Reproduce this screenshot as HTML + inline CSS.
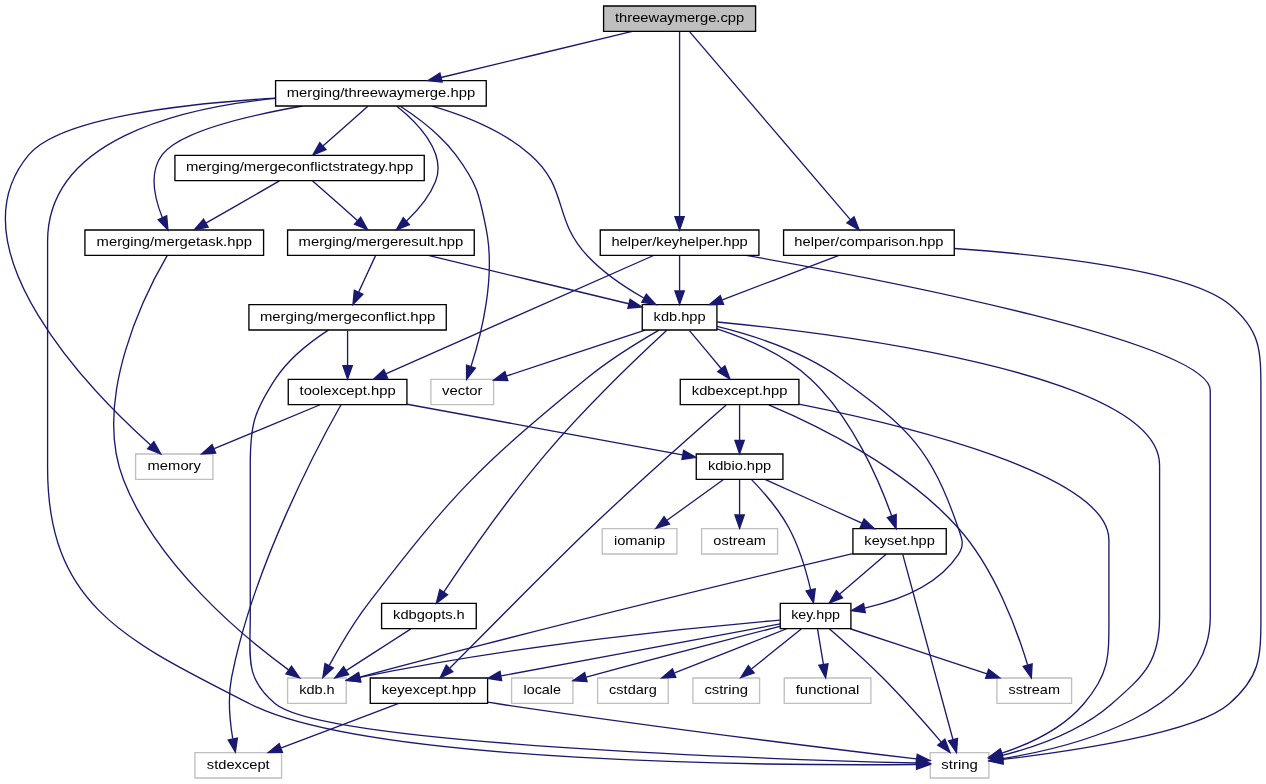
<!DOCTYPE html>
<html><head><meta charset="utf-8"><style>
html,body{margin:0;padding:0;background:#fff;overflow:hidden}
svg{display:block}
text{font-family:"Liberation Sans",sans-serif;font-size:10.0px;text-anchor:middle;fill:#000}
</style></head><body>
<svg width="1266" height="784" viewBox="0 0 949.5 588">
<rect width="949.5" height="588" fill="#fff"/>
<g transform="translate(4 584)" style="will-change:transform">
<g fill="none" stroke="#191970">
<path d="M513.32,-560.08C536.16,-533.38 604.18,-453.87 633.73,-419.32"/>
<path d="M505.69,-560.08C505.69,-533.95 505.69,-457.21 505.69,-421.58"/>
<path d="M470.19,-560.44C431.36,-551.08 369.03,-536.06 326.77,-525.87"/>
<path d="M711.81,-397.64C781.53,-392.74 887.11,-381.29 917.69,-356 941.42,-336.37 941.69,-321.8 941.69,-291 941.69,-291 941.69,-291 941.69,-121 941.69,-90.2 940.88,-76.26 917.69,-56 892.68,-34.15 798.47,-20.39 748.03,-14.43"/>
<path d="M625.19,-392.44C601.61,-383.48 564.37,-369.31 537.72,-359.18"/>
<path d="M533.94,-342.51C618.8,-334.25 865.69,-304.27 865.69,-235 865.69,-235 865.69,-235 865.69,-121 865.69,-87.98 854.5,-77.79 829.69,-56 806.32,-35.49 772.49,-23.73 747.75,-17.42"/>
<path d="M479.86,-336.44C451.79,-327.15 406.85,-312.26 376.11,-302.07"/>
<path d="M513.12,-336.08C519.54,-328.38 528.99,-317.03 536.81,-307.65"/>
<path d="M533.76,-337.37C554.99,-330.45 583.78,-318.46 603.69,-300 635.27,-270.71 655.49,-223.06 664.76,-197.16"/>
<path d="M490.25,-336.46C475.59,-328.04 453.24,-314.37 435.69,-300 355.18,-234.11 336.09,-214.48 272.69,-132 261.18,-117.03 250.33,-98.43 243,-84.97"/>
<path d="M533.72,-339.2C559.69,-332.81 598.45,-320.61 626.69,-300 677.82,-262.68 694,-247.83 714.69,-188 717.59,-179.6 719.61,-175.4 714.69,-168 699.17,-144.65 668.92,-133.39 644.53,-127.97"/>
<path d="M496.1,-336.25C477.71,-319.26 436.54,-280.28 405.69,-244 375.68,-208.71 344.78,-163.87 328.79,-139.91"/>
<path d="M595.19,-280.88C673.49,-265.33 827.69,-228.41 827.69,-179 827.69,-179 827.69,-179 827.69,-121 827.69,-90.9 828.13,-78.98 808.69,-56 792.93,-37.38 767.66,-25.84 747.44,-19.12"/>
<path d="M572.58,-280.41C606.9,-265.98 673.68,-233.87 714.69,-188 742.19,-157.24 758.98,-110.88 766.67,-85.4"/>
<path d="M550.69,-280.08C550.69,-273.01 550.69,-262.86 550.69,-253.99"/>
<path d="M540.64,-280.25C520.85,-262.95 475.52,-222.98 438.69,-188 418.2,-168.54 361.35,-111.19 333.49,-83.01"/>
<path d="M569.7,-224.44C589.28,-215.64 620,-201.81 642.42,-191.72"/>
<path d="M559.48,-224.45C567.8,-215.92 580.12,-202.08 587.69,-188 595.55,-173.38 600.81,-155.21 603.95,-141.8"/>
<path d="M538.64,-224.32C527.22,-216.11 509.86,-203.6 496.25,-193.81"/>
<path d="M550.69,-224.08C550.69,-217.01 550.69,-206.86 550.69,-197.99"/>
<path d="M673.11,-168.08C680.19,-141.95 700.99,-65.21 710.65,-29.58"/>
<path d="M635.54,-168.74C566.59,-152.44 408.58,-114.55 265.82,-76.23"/>
<path d="M660.57,-168.32C651.16,-160.26 636.94,-148.08 625.62,-138.37"/>
<path d="M617.95,-112.35C628.27,-103.51 644.5,-89.24 657.69,-76 673.44,-60.18 690.32,-40.98 701.78,-27.57"/>
<path d="M633.67,-112.44C661.38,-103.32 705.44,-88.81 736.3,-78.65"/>
<path d="M580.77,-118.87C524.15,-114.1 388.48,-101.09 265.87,-75.97"/>
<path d="M581.18,-116.06C533.9,-107.26 434.13,-88.68 371.83,-77.08"/>
<path d="M580.97,-114.22C548.81,-106.03 492.91,-91.67 435.69,-76.23"/>
<path d="M585.98,-112.44C563.33,-103.52 527.62,-89.44 501.94,-79.32"/>
<path d="M596.92,-112.32C586.92,-104.26 571.8,-92.08 559.76,-82.37"/>
<path d="M609.17,-112.08C610.37,-104.93 612.08,-94.64 613.57,-85.69"/>
<path d="M361.91,-57.36C364.88,-56.89 367.83,-56.43 370.69,-56 485.36,-38.79 622.06,-22.09 683.26,-14.81"/>
<path d="M295.03,-56.44C271.29,-47.48 233.78,-33.31 206.95,-23.18"/>
<path d="M304.19,-112.32C291.09,-103.9 270.98,-90.97 255.58,-81.07"/>
<path d="M555.69,-392.44C662.59,-373.47 903.69,-326.71 903.69,-291 903.69,-291 903.69,-291 903.69,-121 903.69,-49.74 801.83,-23.79 748.06,-15.05"/>
<path d="M505.69,-392.08C505.69,-385.01 505.69,-374.86 505.69,-365.99"/>
<path d="M486.15,-392.37C442.42,-373.05 336.5,-326.26 285.32,-303.65"/>
<path d="M301.34,-280.8C357.33,-270.52 452.64,-253.01 507.79,-242.88"/>
<path d="M251.76,-280.45C235.89,-252.37 186.16,-159.88 169.69,-76 166.69,-60.71 168.36,-43.07 170.55,-30.02"/>
<path d="M236.09,-280.44C214.69,-271.56 181.01,-257.56 156.66,-247.45"/>
<path d="M202.59,-510.2C129.34,-502.87 31.69,-478.87 31.69,-403 31.69,-403 31.69,-403 31.69,-233 31.69,-129.31 91.37,-103.22 183.69,-56 271.57,-11.05 581.47,-9.75 683.12,-10.58"/>
<path d="M320.15,-504.45C343.53,-497.7 372.79,-486.29 393.69,-468 422.89,-442.44 410.12,-420.29 436.69,-392 448.7,-379.21 465.04,-368.34 478.81,-360.49"/>
<path d="M296.29,-504.27C308.72,-496.2 326.34,-483.19 337.69,-468 353.79,-446.45 355.48,-438.4 360.69,-412 367.82,-375.85 357.02,-333.11 349.31,-309.33"/>
<path d="M202.68,-510.43C133.7,-506.33 41.04,-495.67 17.69,-468 -41.57,-397.78 64.82,-289.94 108.88,-250.3"/>
<path d="M271.89,-504.32C262.87,-496.34 249.28,-484.31 238.37,-474.65"/>
<path d="M293.68,-504.34C308.61,-492.41 331.17,-469.9 322.69,-448 318.23,-436.5 309.32,-426.13 300.94,-418.25"/>
<path d="M222.82,-504.48C181.21,-497.11 130.62,-484.96 117.69,-468 107.46,-454.59 112.07,-434.95 117.78,-420.77"/>
<path d="M230.49,-448.32C239.51,-440.34 253.09,-428.31 264.01,-418.65"/>
<path d="M205.59,-448.32C190.78,-439.82 167.99,-426.73 150.71,-416.8"/>
<path d="M317.18,-392.44C358.21,-382.55 425.47,-366.34 467.58,-356.19"/>
<path d="M277.56,-392.08C274.17,-384.77 269.27,-374.18 265.07,-365.1"/>
<path d="M242.23,-336.44C229.99,-328.47 212.86,-315.51 202.69,-300 186.19,-274.83 183.69,-265.1 183.69,-235 183.69,-235 183.69,-235 183.69,-121 183.69,-90.9 179.42,-75.09 202.69,-56 239.86,-25.51 576.78,-14.49 683.45,-11.74"/>
<path d="M256.69,-336.08C256.69,-329.01 256.69,-318.86 256.69,-309.99"/>
<path d="M121.34,-392.24C106.01,-365.95 64.53,-285.76 88.69,-224 113.75,-159.93 178.58,-106.3 212.42,-81.61"/>
</g>
<polygon fill="#bfbfbf" stroke="#000" points="448.69,-560.5 448.69,-579.5 562.69,-579.5 562.69,-560.5 448.69,-560.5"/>
<text x="505.69" y="-567.5" textLength="96.87" lengthAdjust="spacingAndGlyphs">threewaymerge.cpp</text>
<polygon fill="#fff" stroke="#000" points="583.69,-392.5 583.69,-411.5 711.69,-411.5 711.69,-392.5 583.69,-392.5"/>
<text x="647.69" y="-399.5" textLength="111.87" lengthAdjust="spacingAndGlyphs">helper/comparison.hpp</text>
<polygon fill="#191970" stroke="#191970" points="636.52,-421.44 640.36,-411.57 631.2,-416.89 636.52,-421.44"/>
<polygon fill="#fff" stroke="#000" points="446.19,-392.5 446.19,-411.5 565.19,-411.5 565.19,-392.5 446.19,-392.5"/>
<text x="505.69" y="-399.5" textLength="102.25" lengthAdjust="spacingAndGlyphs">helper/keyhelper.hpp</text>
<polygon fill="#191970" stroke="#191970" points="509.19,-421.57 505.69,-411.57 502.19,-421.57 509.19,-421.57"/>
<polygon fill="#fff" stroke="#000" points="202.69,-504.5 202.69,-523.5 360.69,-523.5 360.69,-504.5 202.69,-504.5"/>
<text x="281.69" y="-511.5" textLength="141.34" lengthAdjust="spacingAndGlyphs">merging/threewaymerge.hpp</text>
<polygon fill="#191970" stroke="#191970" points="327.56,-522.46 317.02,-523.52 325.92,-529.26 327.56,-522.46"/>
<polygon fill="#fff" stroke="#bfbfbf" points="693.69,-0.5 693.69,-19.5 737.69,-19.5 737.69,-0.5 693.69,-0.5"/>
<text x="715.69" y="-7.5" textLength="27.35" lengthAdjust="spacingAndGlyphs">string</text>
<polygon fill="#191970" stroke="#191970" points="748.3,-10.94 737.97,-13.28 747.51,-17.9 748.3,-10.94"/>
<polygon fill="#fff" stroke="#000" points="477.69,-336.5 477.69,-355.5 533.69,-355.5 533.69,-336.5 477.69,-336.5"/>
<text x="505.69" y="-343.5" textLength="38.98" lengthAdjust="spacingAndGlyphs">kdb.hpp</text>
<polygon fill="#191970" stroke="#191970" points="538.67,-355.8 528.08,-355.52 536.19,-362.34 538.67,-355.8"/>
<polygon fill="#191970" stroke="#191970" points="748.3,-13.95 737.76,-15.03 746.68,-20.76 748.3,-13.95"/>
<polygon fill="#fff" stroke="#bfbfbf" points="319.19,-280.5 319.19,-299.5 366.19,-299.5 366.19,-280.5 319.19,-280.5"/>
<text x="342.69" y="-287.5" textLength="30.27" lengthAdjust="spacingAndGlyphs">vector</text>
<polygon fill="#191970" stroke="#191970" points="376.87,-298.64 366.28,-298.82 374.67,-305.28 376.87,-298.64"/>
<polygon fill="#fff" stroke="#000" points="506.19,-280.5 506.19,-299.5 595.19,-299.5 595.19,-280.5 506.19,-280.5"/>
<text x="550.69" y="-287.5" textLength="71.61" lengthAdjust="spacingAndGlyphs">kdbexcept.hpp</text>
<polygon fill="#191970" stroke="#191970" points="539.68,-309.67 543.4,-299.75 534.3,-305.19 539.68,-309.67"/>
<polygon fill="#fff" stroke="#000" points="635.69,-168.5 635.69,-187.5 705.69,-187.5 705.69,-168.5 635.69,-168.5"/>
<text x="670.69" y="-175.5" textLength="52.85" lengthAdjust="spacingAndGlyphs">keyset.hpp</text>
<polygon fill="#191970" stroke="#191970" points="668.14,-198.1 668.07,-187.51 661.52,-195.83 668.14,-198.1"/>
<polygon fill="#fff" stroke="#bfbfbf" points="211.69,-56.5 211.69,-75.5 255.69,-75.5 255.69,-56.5 211.69,-56.5"/>
<text x="233.69" y="-63.5" textLength="26.66" lengthAdjust="spacingAndGlyphs">kdb.h</text>
<polygon fill="#191970" stroke="#191970" points="245.93,-83.01 238.14,-75.82 239.74,-86.29 245.93,-83.01"/>
<polygon fill="#fff" stroke="#000" points="581.19,-112.5 581.19,-131.5 634.19,-131.5 634.19,-112.5 581.19,-112.5"/>
<text x="607.69" y="-119.5" textLength="36.64" lengthAdjust="spacingAndGlyphs">key.hpp</text>
<polygon fill="#191970" stroke="#191970" points="644.98,-124.49 634.5,-125.99 643.63,-131.36 644.98,-124.49"/>
<polygon fill="#fff" stroke="#000" points="282.19,-112.5 282.19,-131.5 353.19,-131.5 353.19,-112.5 282.19,-112.5"/>
<text x="317.69" y="-119.5" textLength="53.77" lengthAdjust="spacingAndGlyphs">kdbgopts.h</text>
<polygon fill="#191970" stroke="#191970" points="331.69,-137.95 323.25,-131.54 325.85,-141.81 331.69,-137.95"/>
<polygon fill="#191970" stroke="#191970" points="748.28,-15.71 737.69,-16.11 746.22,-22.4 748.28,-15.71"/>
<polygon fill="#fff" stroke="#bfbfbf" points="743.69,-56.5 743.69,-75.5 799.69,-75.5 799.69,-56.5 743.69,-56.5"/>
<text x="771.69" y="-63.5" textLength="38.55" lengthAdjust="spacingAndGlyphs">sstream</text>
<polygon fill="#191970" stroke="#191970" points="770.1,-86.16 769.5,-75.58 763.37,-84.22 770.1,-86.16"/>
<polygon fill="#fff" stroke="#000" points="518.19,-224.5 518.19,-243.5 583.19,-243.5 583.19,-224.5 518.19,-224.5"/>
<text x="550.69" y="-231.5" textLength="47.44" lengthAdjust="spacingAndGlyphs">kdbio.hpp</text>
<polygon fill="#191970" stroke="#191970" points="554.19,-253.75 550.69,-243.75 547.19,-253.75 554.19,-253.75"/>
<polygon fill="#fff" stroke="#000" points="273.69,-56.5 273.69,-75.5 361.69,-75.5 361.69,-56.5 273.69,-56.5"/>
<text x="317.69" y="-63.5" textLength="70.65" lengthAdjust="spacingAndGlyphs">keyexcept.hpp</text>
<polygon fill="#191970" stroke="#191970" points="335.67,-80.23 326.15,-75.58 330.69,-85.15 335.67,-80.23"/>
<polygon fill="#191970" stroke="#191970" points="644.08,-194.81 651.76,-187.52 641.21,-188.43 644.08,-194.81"/>
<polygon fill="#191970" stroke="#191970" points="607.41,-142.35 606.11,-131.84 600.57,-140.87 607.41,-142.35"/>
<polygon fill="#fff" stroke="#bfbfbf" points="447.69,-168.5 447.69,-187.5 503.69,-187.5 503.69,-168.5 447.69,-168.5"/>
<text x="475.69" y="-175.5" textLength="38.52" lengthAdjust="spacingAndGlyphs">iomanip</text>
<polygon fill="#191970" stroke="#191970" points="498.12,-190.84 487.96,-187.83 494.03,-196.52 498.12,-190.84"/>
<polygon fill="#fff" stroke="#bfbfbf" points="522.19,-168.5 522.19,-187.5 579.19,-187.5 579.19,-168.5 522.19,-168.5"/>
<text x="550.69" y="-175.5" textLength="39.43" lengthAdjust="spacingAndGlyphs">ostream</text>
<polygon fill="#191970" stroke="#191970" points="554.19,-197.75 550.69,-187.75 547.19,-197.75 554.19,-197.75"/>
<polygon fill="#191970" stroke="#191970" points="714.13,-30.14 713.37,-19.57 707.37,-28.3 714.13,-30.14"/>
<polygon fill="#191970" stroke="#191970" points="266.58,-72.81 256.01,-73.59 264.76,-79.57 266.58,-72.81"/>
<polygon fill="#191970" stroke="#191970" points="627.86,-135.68 617.99,-131.83 623.31,-141 627.86,-135.68"/>
<polygon fill="#191970" stroke="#191970" points="704.67,-29.58 708.47,-19.68 699.33,-25.05 704.67,-29.58"/>
<polygon fill="#191970" stroke="#191970" points="737.42,-81.97 745.82,-75.52 735.23,-75.32 737.42,-81.97"/>
<polygon fill="#191970" stroke="#191970" points="266.44,-72.51 255.94,-73.9 265.01,-79.36 266.44,-72.51"/>
<polygon fill="#191970" stroke="#191970" points="372.26,-73.6 361.79,-75.21 370.98,-80.48 372.26,-73.6"/>
<polygon fill="#fff" stroke="#bfbfbf" points="379.69,-56.5 379.69,-75.5 425.69,-75.5 425.69,-56.5 379.69,-56.5"/>
<text x="402.69" y="-63.5" textLength="28.07" lengthAdjust="spacingAndGlyphs">locale</text>
<polygon fill="#191970" stroke="#191970" points="436.31,-72.78 425.74,-73.54 434.48,-79.53 436.31,-72.78"/>
<polygon fill="#fff" stroke="#bfbfbf" points="444.19,-56.5 444.19,-75.5 497.19,-75.5 497.19,-56.5 444.19,-56.5"/>
<text x="470.69" y="-63.5" textLength="35.77" lengthAdjust="spacingAndGlyphs">cstdarg</text>
<polygon fill="#191970" stroke="#191970" points="502.88,-75.93 492.29,-75.52 500.31,-82.44 502.88,-75.93"/>
<polygon fill="#fff" stroke="#bfbfbf" points="515.69,-56.5 515.69,-75.5 565.69,-75.5 565.69,-56.5 515.69,-56.5"/>
<text x="540.69" y="-63.5" textLength="32.68" lengthAdjust="spacingAndGlyphs">cstring</text>
<polygon fill="#191970" stroke="#191970" points="561.63,-79.38 551.65,-75.83 557.24,-84.83 561.63,-79.38"/>
<polygon fill="#fff" stroke="#bfbfbf" points="584.19,-56.5 584.19,-75.5 649.19,-75.5 649.19,-56.5 584.19,-56.5"/>
<text x="616.69" y="-63.5" textLength="47.76" lengthAdjust="spacingAndGlyphs">functional</text>
<polygon fill="#191970" stroke="#191970" points="617.04,-86.19 615.23,-75.75 610.13,-85.04 617.04,-86.19"/>
<polygon fill="#191970" stroke="#191970" points="683.93,-18.25 693.45,-13.6 683.1,-11.3 683.93,-18.25"/>
<polygon fill="#fff" stroke="#bfbfbf" points="142.19,-0.5 142.19,-19.5 207.19,-19.5 207.19,-0.5 142.19,-0.5"/>
<text x="174.69" y="-7.5" textLength="47.14" lengthAdjust="spacingAndGlyphs">stdexcept</text>
<polygon fill="#191970" stroke="#191970" points="207.83,-19.77 197.24,-19.52 205.36,-26.32 207.83,-19.77"/>
<polygon fill="#191970" stroke="#191970" points="257.45,-78.12 247.15,-75.65 253.67,-84.01 257.45,-78.12"/>
<polygon fill="#191970" stroke="#191970" points="748.4,-11.56 737.99,-13.53 747.35,-18.48 748.4,-11.56"/>
<polygon fill="#191970" stroke="#191970" points="509.19,-365.75 505.69,-355.75 502.19,-365.75 509.19,-365.75"/>
<polygon fill="#fff" stroke="#000" points="212.19,-280.5 212.19,-299.5 301.19,-299.5 301.19,-280.5 212.19,-280.5"/>
<text x="256.69" y="-287.5" textLength="72.04" lengthAdjust="spacingAndGlyphs">toolexcept.hpp</text>
<polygon fill="#191970" stroke="#191970" points="286.7,-300.43 276.14,-299.59 283.87,-306.83 286.7,-300.43"/>
<polygon fill="#191970" stroke="#191970" points="508.73,-246.27 517.93,-241.02 507.46,-239.38 508.73,-246.27"/>
<polygon fill="#191970" stroke="#191970" points="174.04,-30.4 172.5,-19.92 167.16,-29.08 174.04,-30.4"/>
<polygon fill="#fff" stroke="#bfbfbf" points="97.69,-224.5 97.69,-243.5 155.69,-243.5 155.69,-224.5 97.69,-224.5"/>
<text x="126.69" y="-231.5" textLength="40.03" lengthAdjust="spacingAndGlyphs">memory</text>
<polygon fill="#191970" stroke="#191970" points="157.77,-244.12 147.19,-243.52 155.08,-250.58 157.77,-244.12"/>
<polygon fill="#191970" stroke="#191970" points="683.35,-14.08 693.39,-10.67 683.42,-7.08 683.35,-14.08"/>
<polygon fill="#191970" stroke="#191970" points="480.75,-363.42 487.85,-355.56 477.39,-357.28 480.75,-363.42"/>
<polygon fill="#191970" stroke="#191970" points="352.52,-307.88 345.97,-299.56 345.89,-310.15 352.52,-307.88"/>
<polygon fill="#191970" stroke="#191970" points="111.39,-252.75 116.56,-243.51 106.75,-247.51 111.39,-252.75"/>
<polygon fill="#fff" stroke="#000" points="127.19,-448.5 127.19,-467.5 314.19,-467.5 314.19,-448.5 127.19,-448.5"/>
<text x="220.69" y="-455.5" textLength="170.50" lengthAdjust="spacingAndGlyphs">merging/mergeconflictstrategy.hpp</text>
<polygon fill="#191970" stroke="#191970" points="240.47,-471.84 230.67,-467.83 235.83,-477.08 240.47,-471.84"/>
<polygon fill="#fff" stroke="#000" points="211.69,-392.5 211.69,-411.5 351.69,-411.5 351.69,-392.5 211.69,-392.5"/>
<text x="281.69" y="-399.5" textLength="123.51" lengthAdjust="spacingAndGlyphs">merging/mergeresult.hpp</text>
<polygon fill="#191970" stroke="#191970" points="303.06,-415.46 293.23,-411.51 298.45,-420.73 303.06,-415.46"/>
<polygon fill="#fff" stroke="#000" points="59.69,-392.5 59.69,-411.5 193.69,-411.5 193.69,-392.5 59.69,-392.5"/>
<text x="126.69" y="-399.5" textLength="116.48" lengthAdjust="spacingAndGlyphs">merging/mergetask.hpp</text>
<polygon fill="#191970" stroke="#191970" points="121.01,-422.13 121.94,-411.58 114.63,-419.25 121.01,-422.13"/>
<polygon fill="#191970" stroke="#191970" points="266.54,-421.08 271.71,-411.83 261.9,-415.84 266.54,-421.08"/>
<polygon fill="#191970" stroke="#191970" points="152.17,-413.6 141.75,-411.65 148.68,-419.67 152.17,-413.6"/>
<polygon fill="#191970" stroke="#191970" points="468.55,-359.55 477.45,-353.81 466.91,-352.75 468.55,-359.55"/>
<polygon fill="#fff" stroke="#000" points="182.69,-336.5 182.69,-355.5 330.69,-355.5 330.69,-336.5 182.69,-336.5"/>
<text x="256.69" y="-343.5" textLength="131.42" lengthAdjust="spacingAndGlyphs">merging/mergeconflict.hpp</text>
<polygon fill="#191970" stroke="#191970" points="268.12,-363.36 260.74,-355.75 261.76,-366.3 268.12,-363.36"/>
<polygon fill="#191970" stroke="#191970" points="683.7,-15.24 693.61,-11.49 683.52,-8.24 683.7,-15.24"/>
<polygon fill="#191970" stroke="#191970" points="260.19,-309.75 256.69,-299.75 253.19,-309.75 260.19,-309.75"/>
<polygon fill="#191970" stroke="#191970" points="214.6,-84.35 220.7,-75.69 210.53,-78.66 214.6,-84.35"/>
</g>
</svg>
</body></html>
